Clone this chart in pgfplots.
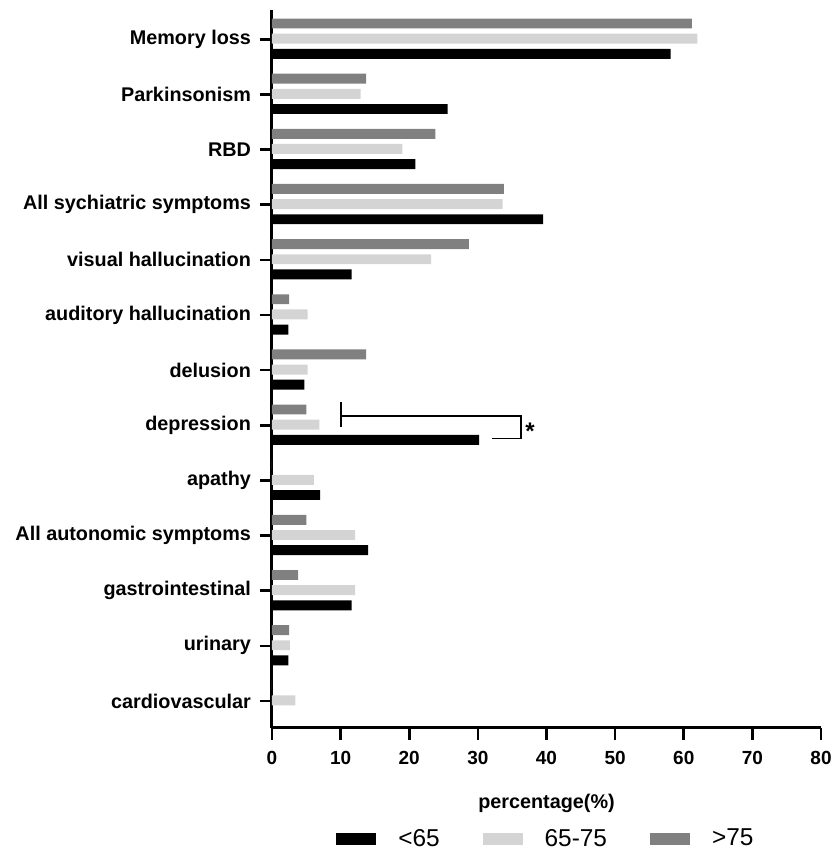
\documentclass[border=0pt]{standalone}
\usepackage{pgfplots}
\pgfplotsset{compat=1.18}
\usepackage{pgfplotstable}
\usepackage{fontspec}
\setmainfont{Liberation Sans}
\definecolor{cA}{HTML}{000000}
\definecolor{cB}{HTML}{D4D4D4}
\definecolor{cC}{HTML}{808080}

% pos: 12 = Memory loss (top) ... 0 = cardiovascular (bottom)
\pgfplotstableread{
pos young mid old
12 58.1 62.0 61.2
11 25.6 12.9 13.7
10 20.9 19.0 23.8
9  39.5 33.6 33.8
8  11.6 23.2 28.7
7  2.4  5.2  2.5
6  4.7  5.2  13.7
5  30.2 6.9  5.0
4  7.0  6.1  0
3  14.0 12.1 5.0
2  11.6 12.1 3.8
1  2.4  2.6  2.5
0  0    3.4  0
}\datatable

\begin{document}
\begin{tikzpicture}
\begin{axis}[
  scale only axis,
  width=274.5pt, height=359pt,
  xmin=0, xmax=80, ymin=-0.49, ymax=12.53,
  xbar, bar width=0.18,
  axis x line*=bottom, axis y line*=left,
  axis line style={line width=1.5pt, black},
  xtick={0,10,...,80},
  ytick={0,...,12},
  yticklabels={cardiovascular, urinary, gastrointestinal, All autonomic symptoms, apathy, depression, delusion, auditory hallucination, visual hallucination, All sychiatric symptoms, RBD, Parkinsonism, Memory loss},
  tick align=outside,
  major tick length=6pt,
  tick style={line width=1.3pt, black},
  xticklabel style={/pgf/number format/assume math mode=true, font=\fontsize{9.5}{10}\selectfont\bfseries, yshift=-2pt},
  yticklabel style={font=\fontsize{9.9}{11}\selectfont\bfseries, xshift=-1pt},
  xlabel={percentage(\%)},
  xlabel style={font=\fontsize{9.9}{11}\selectfont\bfseries, at={(axis description cs:0.5,-0.1045)}, anchor=center},
  legend columns=3,
  legend style={at={(axis description cs:0.497,-0.1546)}, anchor=center, draw=none,
    inner sep=0pt, font=\fontsize{12.2}{13}\selectfont,
    nodes={inner sep=0pt},
    /tikz/every odd column/.append style={column sep=11pt},
    /tikz/every even column/.append style={column sep=21.5pt}},
  legend image code/.code={\fill[#1] (0pt,-3pt) rectangle (20pt,3pt);},
  clip=false,
]
\addplot[fill=cA, draw=none, bar shift=-0.265] table[x=young, y=pos] {\datatable};
\addlegendentry{<65}
\addplot[fill=cB, draw=none, bar shift=0.01] table[x=mid, y=pos] {\datatable};
\addlegendentry{65-75}
\addplot[fill=cC, draw=none, bar shift=0.285] table[x=old, y=pos] {\datatable};
\addlegendentry{>75}
% significance bracket
\draw[line width=0.9pt] (axis cs:10,5.417) -- (axis cs:10,4.964);
\draw[line width=0.9pt] (axis cs:10,5.169) -- (axis cs:36.25,5.169) -- (axis cs:36.25,4.759) -- (axis cs:32.07,4.759);
\node[font=\fontsize{12}{12}\selectfont\bfseries, anchor=center] at (axis cs:37.6,4.9) {*};
\coordinate (BL) at (rel axis cs:0,0);
\coordinate (TR) at (rel axis cs:1,1);
\end{axis}
\pgfresetboundingbox
\path ([xshift=-136pt,yshift=-61pt]BL) rectangle ([xshift=6pt,yshift=5pt]TR);
\end{tikzpicture}
\end{document}
